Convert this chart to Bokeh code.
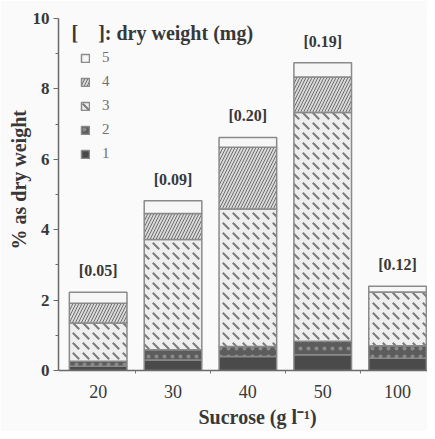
from bokeh.plotting import figure
from bokeh.models import (ColumnDataSource, FixedTicker, Legend, LegendItem, Label,
                          Range1d, Title)
from bokeh.core.properties import value
from bokeh.transform import stack
from bokeh.embed import file_html
from bokeh.resources import INLINE

# ---- data ----
categories = ["20", "30", "40", "50", "100"]
seg1 = [0.12, 0.30, 0.40, 0.45, 0.35]
seg2 = [0.14, 0.29, 0.28, 0.38, 0.35]
seg3 = [1.09, 3.13, 3.91, 6.50, 1.53]
seg4 = [0.56, 0.74, 1.75, 1.01, 0.00]
seg5 = [0.31, 0.36, 0.28, 0.40, 0.16]
dry_weight = ["[0.05]", "[0.09]", "[0.20]", "[0.19]", "[0.12]"]
series_names = ["1", "2", "3", "4", "5"]
y_ticks = [0, 2, 4, 6, 8, 10]

xpos = list(range(len(categories)))
totals = [a + b + c + d + e for a, b, c, d, e in zip(seg1, seg2, seg3, seg4, seg5)]

src = ColumnDataSource(dict(x=xpos, s1=seg1, s2=seg2, s3=seg3, s4=seg4, s5=seg5,
                            top=totals, lab=dry_weight))

FONT = "Liberation Serif"
TXT = "#383838"
BG = "#fafafa"

p = figure(width=427, height=431, output_backend="svg", toolbar_location=None,
           x_range=Range1d(-0.53, 4.40), y_range=Range1d(0, 10),
           min_border_left=58, min_border_right=0, min_border_top=18,
           min_border_bottom=60)
p.background_fill_color = BG
p.border_fill_color = BG
p.outline_line_color = None
p.grid.visible = False

styles = [
    dict(fill_color="#4a4a4a"),
    dict(fill_color="#5c5c5c", hatch_pattern="dot", hatch_color="#8a8a8a",
         hatch_scale=8, hatch_weight=1.5),
    dict(fill_color="#eeeeee", hatch_pattern="left_diagonal_dash",
         hatch_color="#7a7a7a", hatch_scale=10, hatch_weight=2),
    dict(fill_color="#d9d9d9", hatch_pattern="right_diagonal_line",
         hatch_color="#6e6e6e", hatch_scale=6, hatch_weight=1),
    dict(fill_color="#f6f6f6"),
]
stackers = ["s1", "s2", "s3", "s4", "s5"]
renderers = []
for i, kw in enumerate(styles):
    bottom = stack(*stackers[:i]) if i > 0 else 0
    r = p.vbar(x="x", width=0.77, bottom=bottom, top=stack(*stackers[:i + 1]),
               source=src, line_color="#8a8a8a", line_width=1.5, **kw)
    renderers.append(r)

# labels above bars
p.text(x="x", y="top", text="lab", source=src, text_align="center",
       text_baseline="bottom", y_offset=-13, text_font=value(FONT),
       text_font_style="bold", text_font_size="16px", text_color=TXT)

# legend (top to bottom: 5..1)
items = [LegendItem(label=series_names[i], renderers=[renderers[i]]) for i in range(4, -1, -1)]
leg = Legend(items=items, location=(22, 208), orientation="vertical",
             glyph_width=10, glyph_height=10, label_height=14, spacing=7,
             padding=0, margin=0, label_standoff=12,
             label_text_font=FONT, label_text_font_size="15px",
             label_text_color="#707070",
             background_fill_alpha=0, border_line_color=None)
p.add_layout(leg, "center")

p.add_layout(Label(x=13, y=338, x_units="screen", y_units="screen",
                   text="[\u00a0\u00a0\u00a0\u00a0]: dry weight (mg)", text_font=FONT,
                   text_font_style="bold", text_font_size="20px",
                   text_color=TXT, text_baseline="middle"))

# axis titles (positioned as in the original, off the frame centre)
p.add_layout(Title(text="Sucrose (g l\u207b\u00b9)", align="left", offset=140,
                   text_font=FONT, text_font_style="bold", text_font_size="20px",
                   text_color=TXT, standoff=7), "below")
p.add_layout(Title(text="% as dry weight", align="left", offset=121,
                   text_font=FONT, text_font_style="bold", text_font_size="20px",
                   text_color=TXT, standoff=0), "left")

# axes
p.xaxis.ticker = FixedTicker(ticks=xpos, minor_ticks=[0.5, 1.5, 2.5, 3.5])
p.xaxis.major_label_overrides = {i: c for i, c in enumerate(categories)}
p.xaxis.major_tick_line_color = None
p.xaxis.major_tick_out = 0
p.xaxis.major_tick_in = 0
p.xaxis.minor_tick_out = 3
p.xaxis.minor_tick_in = 0
p.xaxis.minor_tick_line_color = "#777777"

p.yaxis.ticker = FixedTicker(ticks=y_ticks, minor_ticks=[1, 3, 5, 7, 9])
p.yaxis.major_tick_out = 5
p.yaxis.major_tick_in = 0
p.yaxis.minor_tick_out = 3
p.yaxis.minor_tick_in = 0
p.yaxis.major_tick_line_color = "#6a6a6a"
p.yaxis.minor_tick_line_color = "#6a6a6a"

for ax in (p.xaxis, p.yaxis):
    ax.axis_line_color = "#6a6a6a"
    ax.axis_line_width = 1.5
    ax.major_label_text_font = FONT
    ax.major_label_text_font_size = "18px"
    ax.major_label_text_color = TXT
p.yaxis.major_label_text_font_size = "17px"
p.yaxis.major_label_text_font_style = "bold"
p.xaxis.major_label_standoff = 11
p.yaxis.major_label_standoff = 4

open("out.html", "w").write(file_html(p, INLINE))
